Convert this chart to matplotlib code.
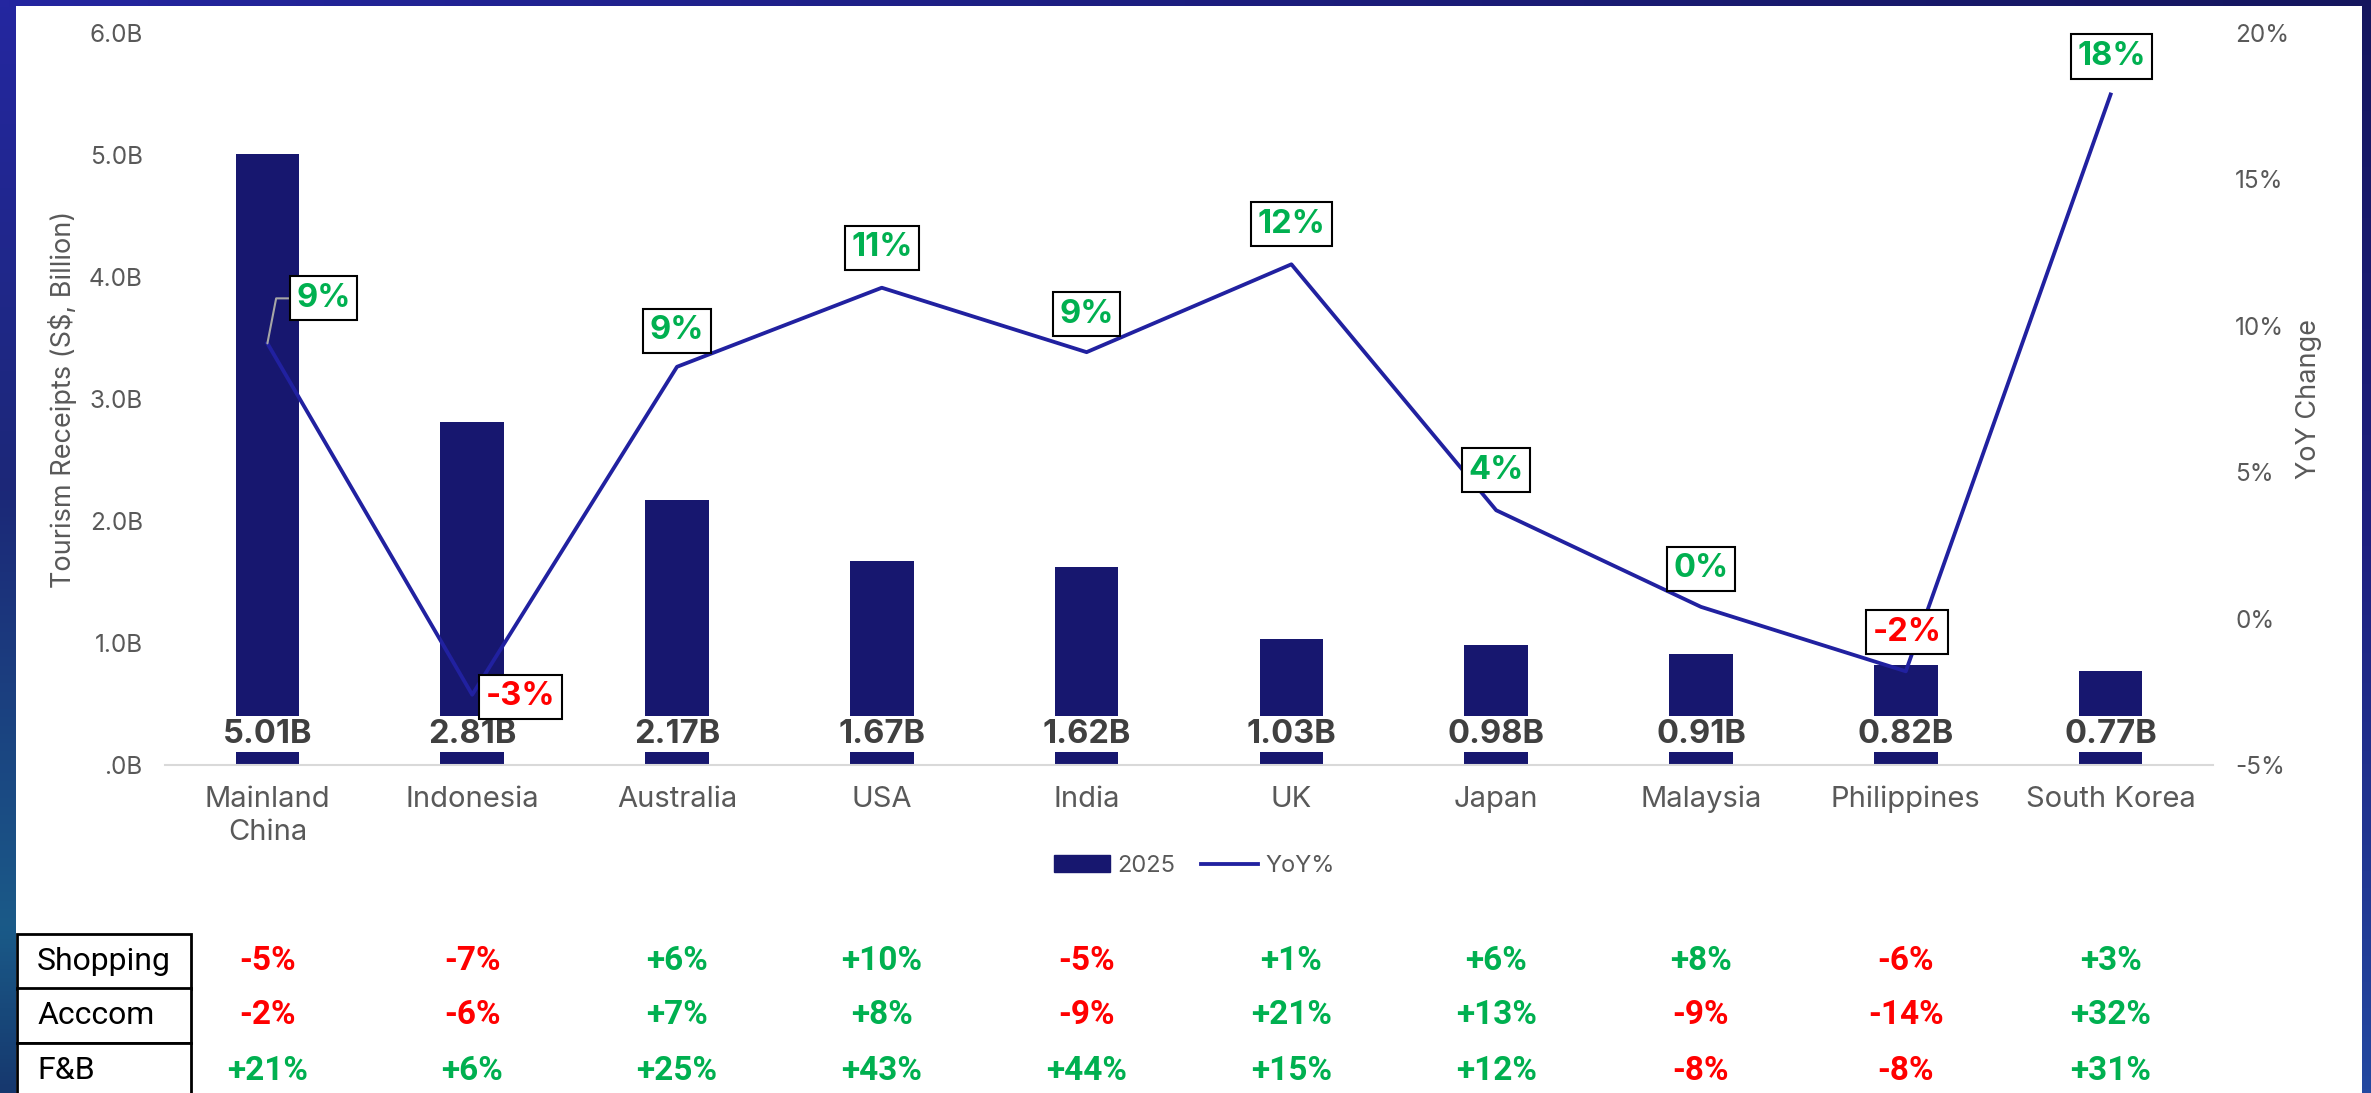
import numpy as np
import matplotlib
matplotlib.use("Agg")
import matplotlib.pyplot as plt
from matplotlib.patches import Rectangle, Patch
from matplotlib.lines import Line2D
from matplotlib.colors import LinearSegmentedColormap
from matplotlib.transforms import blended_transform_factory

plt.rcParams['font.family'] = ['Inter', 'DejaVu Sans']

# data
countries = ["Mainland\nChina", "Indonesia", "Australia", "USA", "India", "UK",
             "Japan", "Malaysia", "Philippines", "South Korea"]
receipts = [5.01, 2.81, 2.17, 1.67, 1.62, 1.03, 0.98, 0.91, 0.82, 0.77]
receipt_labels = ["5.01B", "2.81B", "2.17B", "1.67B", "1.62B", "1.03B",
                  "0.98B", "0.91B", "0.82B", "0.77B"]
yoy = [9.4, -2.6, 8.6, 11.3, 9.1, 12.1, 3.7, 0.4, -1.8, 17.9]
yoy_labels = ["9%", "-3%", "9%", "11%", "9%", "12%", "4%", "0%", "-2%", "18%"]
left_ticks = [0, 1, 2, 3, 4, 5, 6]
left_ticklabels = [".0B", "1.0B", "2.0B", "3.0B", "4.0B", "5.0B", "6.0B"]
right_ticks = [-5, 0, 5, 10, 15, 20]
right_ticklabels = ["-5%", "0%", "5%", "10%", "15%", "20%"]

table_rows = ["Shopping", "Acccom", "F&B"]
shopping = ["-5%", "-7%", "+6%", "+10%", "-5%", "+1%", "+6%", "+8%", "-6%", "+3%"]
accom = ["-2%", "-6%", "+7%", "+8%", "-9%", "+21%", "+13%", "-9%", "-14%", "+32%"]
fnb = ["+21%", "+6%", "+25%", "+43%", "+44%", "+15%", "+12%", "-8%", "-8%", "+31%"]

BAR = "#17176F"
LINE = "#2121A0"
GREEN = "#00B050"
RED = "#FF0000"
GREY = "#595959"

W, H = 2371, 1093
fig = plt.figure(figsize=(W / 100, H / 100), dpi=100)

# gradient frame
bg = fig.add_axes([0, 0, 1, 1])
bg.set_xlim(0, W)
bg.set_ylim(H, 0)
bg.axis("off")
left_cm = LinearSegmentedColormap.from_list(
    "l", [(0, "#2426A0"), (0.45, "#1C2878"), (0.85, "#1A5A88"), (1, "#16386E")])
right_cm = LinearSegmentedColormap.from_list(
    "r", [(0, "#15165E"), (0.5, "#1F2080"), (1, "#2448A0")])
top_cm = LinearSegmentedColormap.from_list("t", ["#2426A0", "#15165E"])
grad = np.linspace(0, 1, 256)
bg.imshow(grad[:, None], cmap=left_cm, extent=(0, 17, H, 0), aspect="auto")
bg.imshow(grad[:, None], cmap=right_cm, extent=(2362, W, H, 0), aspect="auto")
bg.imshow(grad[None, :], cmap=top_cm, extent=(0, W, 7, 0), aspect="auto")
bg.add_patch(Rectangle((16, 6), 2362 - 16, H, facecolor="white", edgecolor="none"))

# main chart
ax = fig.add_axes([165 / W, 1 - 765 / H, 2048 / W, 732 / H])
ax.patch.set_alpha(0)
x = np.arange(len(countries))
ax.bar(x, receipts, width=0.31, color=BAR, zorder=2)
ax.set_xlim(-0.5, len(countries) - 0.5)
ax.set_ylim(0, 6)
ax.set_yticks(left_ticks)
ax.set_yticklabels(left_ticklabels)
ax.set_xticks(x)
ax.set_xticklabels(countries, fontsize=21, color=GREY, linespacing=1.3)
ax.tick_params(axis="y", length=0, pad=16, labelsize=17.5, labelcolor=GREY)
ax.tick_params(axis="x", length=0, pad=15)
for s in ["top", "left", "right"]:
    ax.spines[s].set_visible(False)
ax.spines["bottom"].set_color("#D9D9D9")
ax.spines["bottom"].set_linewidth(1.5)
ax.set_ylabel("Tourism Receipts (S$, Billion)", fontsize=19.5, color=GREY, va="center")
ax.yaxis.set_label_coords((63 - 165) / 2048, 0.5)

for xi, lab in zip(x, receipt_labels):
    ax.text(xi, 0.254, lab, ha="center", va="center", fontsize=23.5, fontweight="bold",
            color="#404040", zorder=3,
            bbox=dict(boxstyle="square,pad=0.08", fc="white", ec="none"))

ax2 = ax.twinx()
ax2.set_ylim(-5, 20)
ax2.set_yticks(right_ticks)
ax2.set_yticklabels(right_ticklabels)
ax2.tick_params(axis="y", length=0, pad=16, labelsize=17.5, labelcolor=GREY)
for s in ax2.spines.values():
    s.set_visible(False)
ax2.set_ylabel("YoY Change", fontsize=19.5, color=GREY, va="center", rotation=90)
ax2.yaxis.set_label_coords((2309 - 165) / 2048, 0.5)
ax2.plot(x, yoy, color=LINE, lw=2.75, zorder=4)

offsets = [(56, 45), (48, -2), (0, 36), (0, 40), (0, 38), (0, 40),
           (0, 40), (0, 38), (1, 39), (1, 38)]
for xi, v, lab, off in zip(x, yoy, yoy_labels, offsets):
    col = RED if lab.startswith("-") else GREEN
    kw = {}
    if xi == 0:
        kw["arrowprops"] = dict(arrowstyle="-", color="#A6A6A6", lw=1.5, shrinkA=0, shrinkB=0,
                                connectionstyle="angle,angleA=0,angleB=79,rad=0")
    ax2.annotate(lab, (xi, v), xytext=off, textcoords="offset pixels",
                 ha="center", va="center", fontsize=23.5, fontweight="bold", color=col,
                 bbox=dict(boxstyle="square,pad=0.2", fc="white", ec="black", lw=1.5),
                 zorder=5, **kw)

handles = [Patch(color=BAR), Line2D([0], [0], color=LINE, lw=2.75)]
fig.legend(handles, ["2025", "YoY%"], loc="center", bbox_to_anchor=(1194 / W, 1 - 866 / H),
           ncol=2, frameon=False, fontsize=17, handlelength=2.4, handletextpad=0.3,
           columnspacing=1.1, labelcolor=GREY)

# table below the chart
narrow = ["Liberation Sans Narrow", "Roboto", "DejaVu Sans"]
row_tops = [934, 988, 1043]
row_h = 55
for top, name in zip(row_tops, table_rows):
    bg.add_patch(Rectangle((17, top), 174, row_h, facecolor="white", edgecolor="black", lw=2))
    bg.text(37, top + row_h / 2, name, ha="left", va="center", fontsize=23,
            family=narrow, color="black")

tr = blended_transform_factory(ax.transData, fig.transFigure)
for top, vals in zip(row_tops, [shopping, accom, fnb]):
    yc = 1 - (top + row_h / 2) / H
    for xi, v in zip(x, vals):
        col = RED if v.startswith("-") else GREEN
        ax.text(xi, yc, v, transform=tr, ha="center", va="center", fontsize=24,
                fontweight="bold", family=narrow, color=col, clip_on=False)

fig.savefig("out.png", dpi=100)
